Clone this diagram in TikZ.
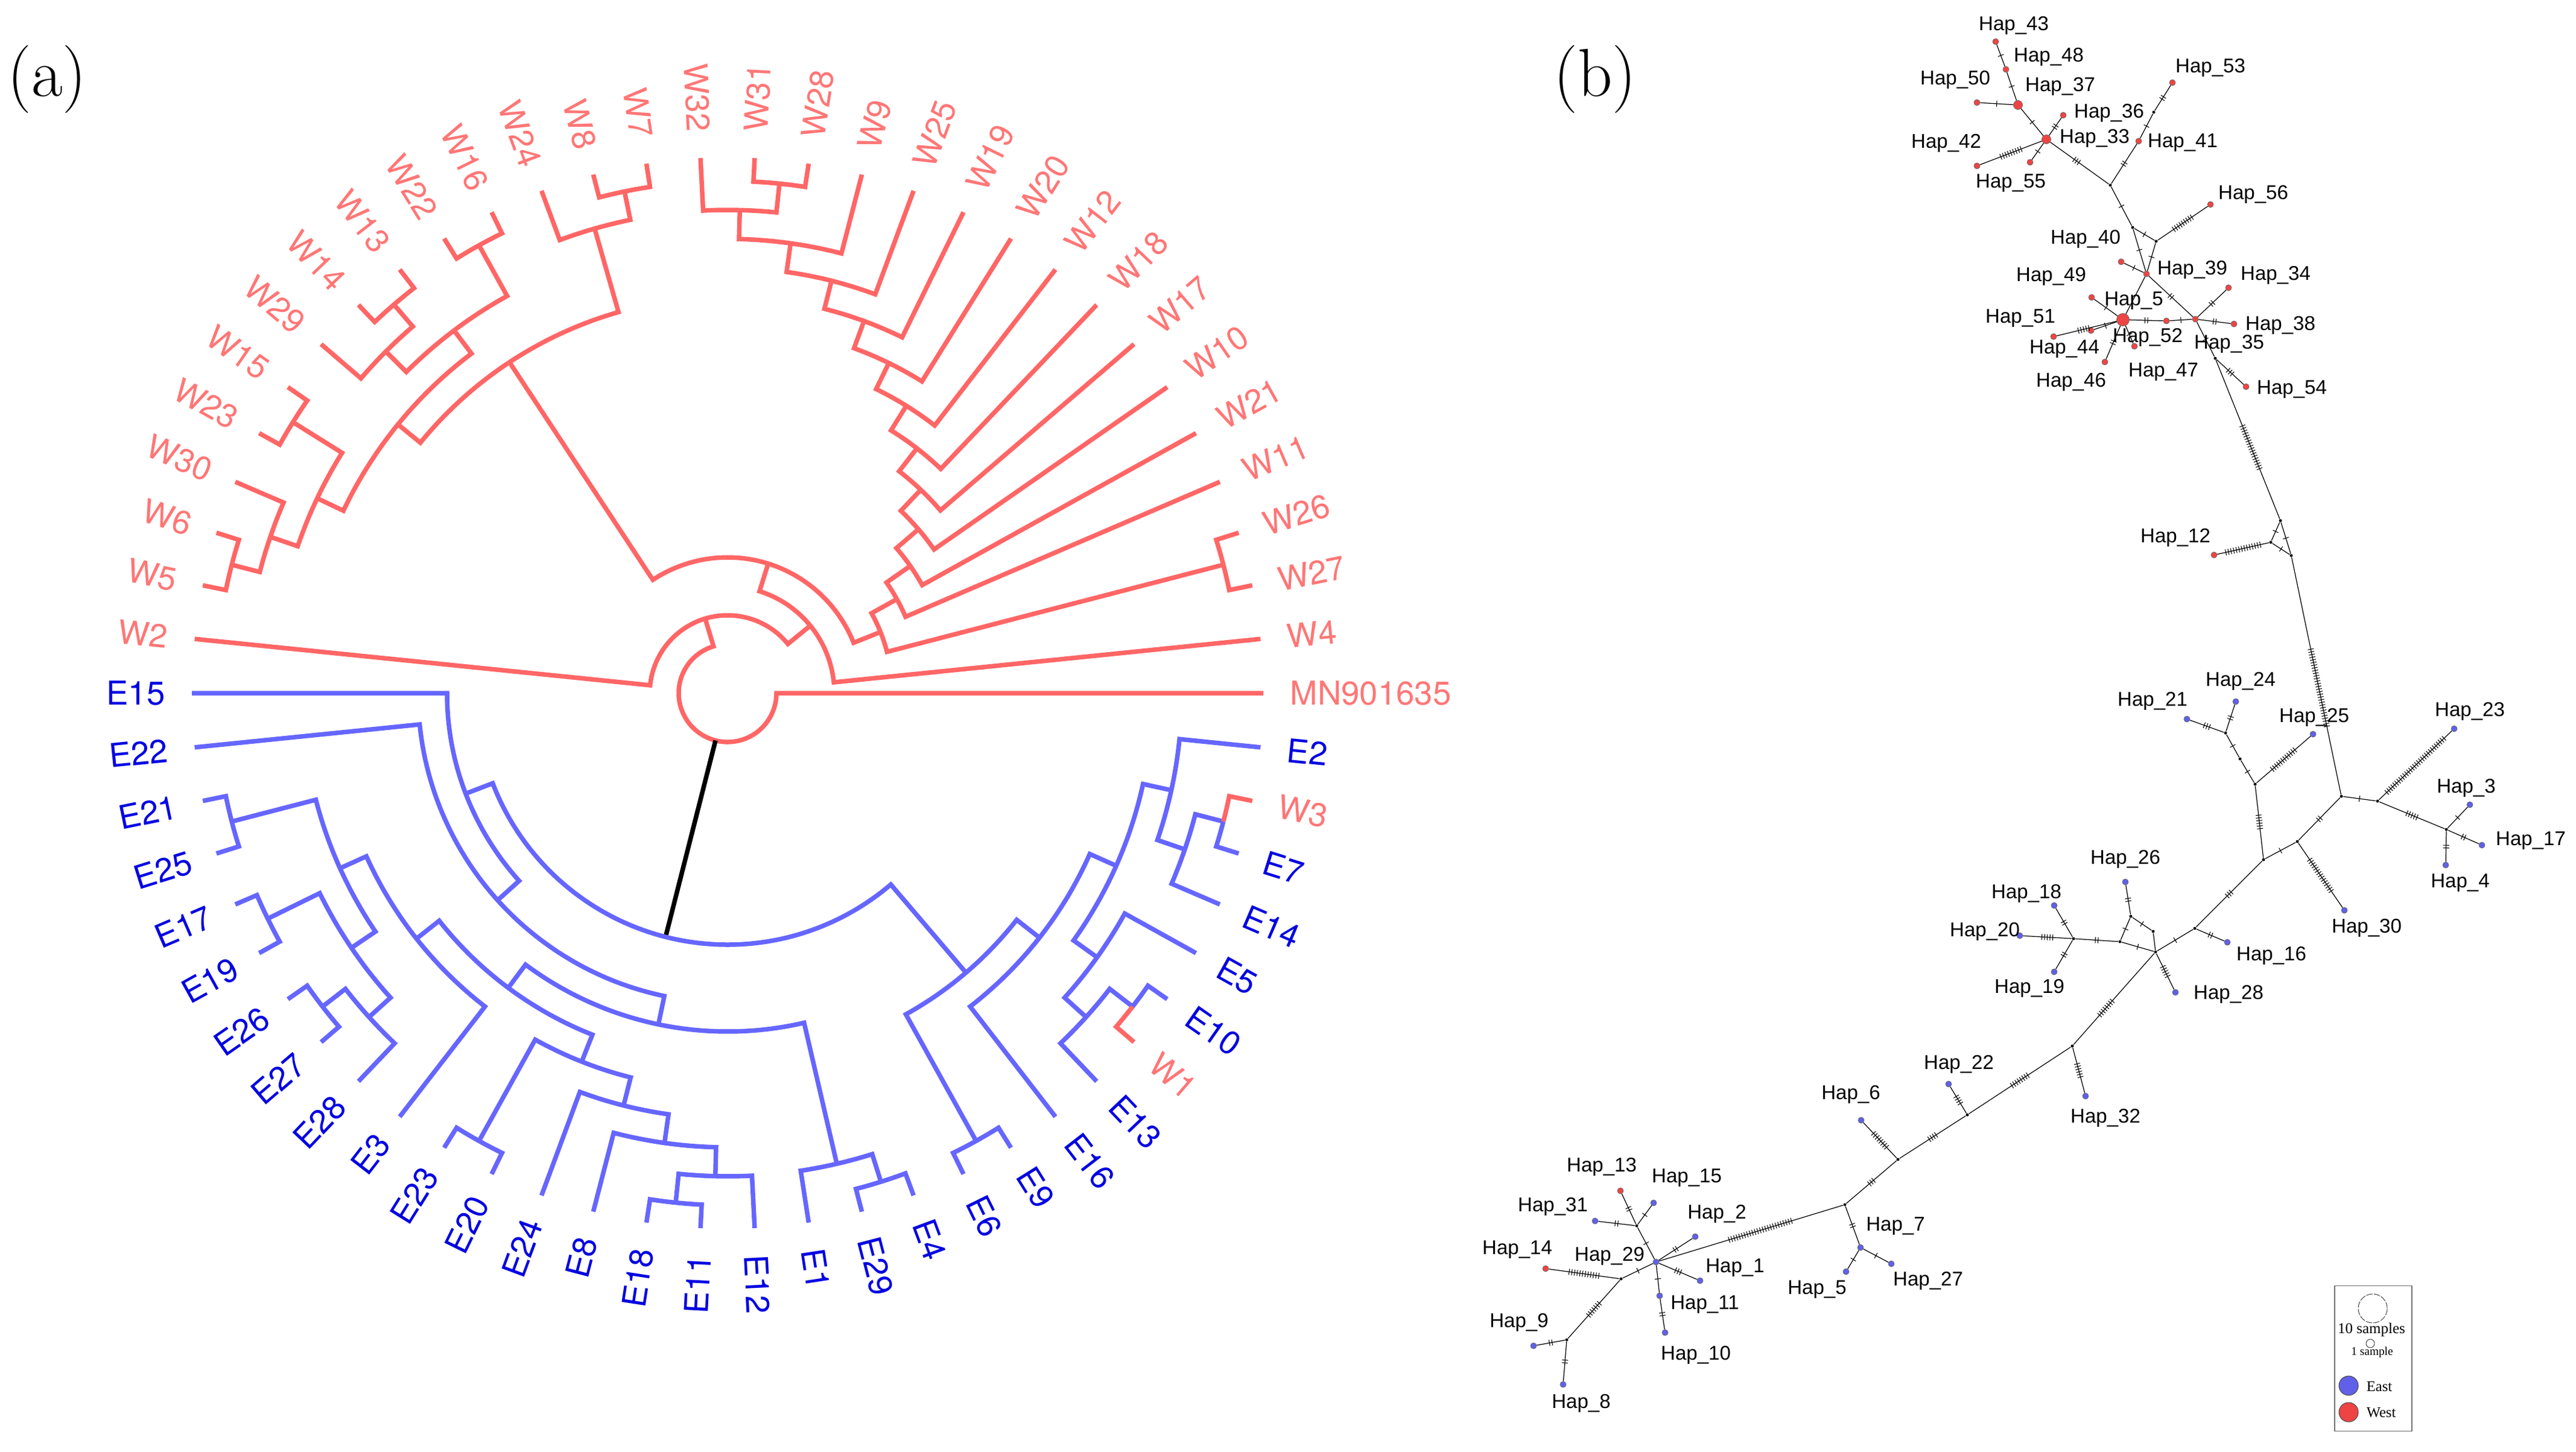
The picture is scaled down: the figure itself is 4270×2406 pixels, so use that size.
\documentclass[tikz,border=0pt]{standalone}
\usepackage{fontspec}
\usetikzlibrary{decorations.markings}
\newfontfamily\treefont{TeX Gyre Heros}
\newfontfamily\hapfont{Liberation Sans}
\newfontfamily\legfont{Liberation Serif}
\definecolor{cWbr}{RGB}{255,102,102}
\definecolor{cEbr}{RGB}{102,102,255}
\definecolor{cWlab}{RGB}{255,118,118}
\definecolor{cElab}{RGB}{0,0,225}
\definecolor{cNred}{RGB}{238,68,68}
\definecolor{cNblue}{RGB}{96,96,232}
\newcommand\nd[6]{\draw[#1] (#3:#4) -- (#3:#2) arc[start angle=#3,end angle=#5,radius=#2] -- (#5:#6);}
\begin{document}
\begin{tikzpicture}[x=0.01cm,y=0.01cm,
  redbr/.style={draw=cWbr,line width=0.075cm},
  bluebr/.style={draw=cEbr,line width=0.075cm},
  blackbr/.style={draw=black,line width=0.075cm},
  lab/.style={font=\treefont\fontsize{15.5}{18}\selectfont,inner sep=0pt},
  hl/.style={font=\hapfont\fontsize{9.4}{11}\selectfont,inner sep=0pt},
  ed/.style={draw=black,line width=0.35pt},
  tk/.style 2 args={postaction={decorate,decoration={markings,mark=at position #1 with {\foreach \k in {1,...,#2}{\draw[line width=0.3pt] ({(\k-(#2+1)/2)*4.5},-5) -- ++(0,10);}}}}},
  rn/.style={circle,fill=cNred,draw=black!60,line width=0.2pt,minimum size=0.1cm,inner sep=0pt},
  bn/.style={circle,fill=cNblue,draw=black!60,line width=0.2pt,minimum size=0.1cm,inner sep=0pt},
  md/.style={circle,fill=black,minimum size=0.05cm,inner sep=0pt},
  legt/.style={font=\legfont,inner sep=0pt}]
\fill[white] (0,0) rectangle (4270,-2406);
\useasboundingbox (0,0) rectangle (4270,-2406);

\node[inner sep=0pt,font=\fontsize{32}{38}\selectfont] (pa) at (78,-131) {(a)};
\node[inner sep=0pt,font=\fontsize{32}{38}\selectfont] (pb) at (2644,-131) {(b)};

% ---------------- dendrogram ----------------
\begin{scope}[shift={(1206,-1149)}]
% west clade
\nd{redbr}{81}{106.7}{129}{360}{888}
\nd{redbr}{129}{39.2}{177}{174.19}{888}
\nd{redbr}{177}{5.81}{888}{72.59}{225}
\nd{redbr}{225}{21.78}{273}{123.39}{657}
\nd{redbr}{273}{14.52}{849}{29.03}{321}
\nd{redbr}{849}{11.61}{888}{17.42}{888}
\nd{redbr}{321}{23.23}{888}{34.84}{369}
\nd{redbr}{369}{29.03}{888}{40.65}{417}
\nd{redbr}{417}{34.84}{888}{46.46}{465}
\nd{redbr}{465}{40.65}{888}{52.28}{513}
\nd{redbr}{513}{46.45}{888}{58.11}{561}
\nd{redbr}{561}{52.26}{888}{63.96}{609}
\nd{redbr}{609}{58.06}{888}{69.86}{657}
\nd{redbr}{657}{63.87}{888}{75.85}{705}
\nd{redbr}{705}{69.68}{888}{82.02}{753}
\nd{redbr}{753}{75.48}{888}{88.55}{801}
\nd{redbr}{801}{84.19}{849}{92.90}{888}
\nd{redbr}{849}{81.29}{888}{87.10}{888}
\nd{redbr}{657}{105.97}{801}{140.81}{705}
\nd{redbr}{801}{101.61}{849}{110.32}{888}
\nd{redbr}{849}{98.71}{888}{104.52}{888}
\nd{redbr}{705}{127.02}{753}{154.6}{753}
\nd{redbr}{753}{119.03}{849}{135.0}{801}
\nd{redbr}{849}{116.13}{888}{121.94}{888}
\nd{redbr}{801}{130.65}{849}{139.35}{888}
\nd{redbr}{849}{127.74}{888}{133.55}{888}
\nd{redbr}{753}{148.06}{849}{161.13}{801}
\nd{redbr}{849}{145.16}{888}{150.97}{888}
\nd{redbr}{801}{156.77}{888}{165.48}{849}
\nd{redbr}{849}{162.58}{888}{168.39}{888}
% east clade
\draw[blackbr] (255.73:81) -- (255.73:417);
\nd{bluebr}{417}{201.0}{465}{310.46}{609}
\nd{bluebr}{465}{180}{888}{222.01}{513}
\nd{bluebr}{513}{185.81}{888}{258.21}{561}
\nd{bluebr}{561}{233.35}{609}{283.07}{801}
\nd{bluebr}{609}{218.29}{657}{248.41}{657}
\nd{bluebr}{657}{204.32}{705}{232.26}{888}
\nd{bluebr}{705}{194.52}{849}{214.11}{753}
\nd{bluebr}{849}{191.61}{888}{197.42}{888}
\nd{bluebr}{753}{206.13}{849}{222.10}{801}
\nd{bluebr}{849}{203.23}{888}{209.03}{888}
\nd{bluebr}{801}{217.74}{849}{226.45}{888}
\nd{bluebr}{849}{214.84}{888}{220.65}{888}
\nd{bluebr}{657}{240.97}{849}{255.85}{705}
\nd{bluebr}{849}{238.06}{888}{243.87}{888}
\nd{bluebr}{705}{249.68}{888}{262.02}{753}
\nd{bluebr}{753}{255.48}{888}{268.55}{801}
\nd{bluebr}{801}{264.19}{849}{272.90}{888}
\nd{bluebr}{849}{261.29}{888}{267.10}{888}
\nd{bluebr}{801}{278.71}{888}{287.42}{849}
\nd{bluebr}{849}{284.52}{888}{290.32}{888}
\nd{bluebr}{609}{299.03}{849}{321.9}{657}
\nd{bluebr}{849}{296.13}{888}{301.94}{888}
\nd{bluebr}{657}{307.74}{888}{336.05}{705}
\nd{bluebr}{705}{324.44}{753}{347.66}{753}
\nd{bluebr}{753}{317.9}{801}{330.97}{888}
\nd{bluebr}{801}{313.55}{888}{322.26}{849}
\draw[redbr] (319.35:888) -- (319.35:849) arc[start angle=319.35,end angle=322.26,radius=849];
\draw[bluebr] (322.26:849) arc[start angle=322.26,end angle=325.16,radius=849] -- (325.16:888);
\nd{bluebr}{753}{341.13}{801}{354.19}{888}
\nd{bluebr}{801}{336.77}{888}{345.48}{849}
\draw[bluebr] (342.58:888) -- (342.58:849) arc[start angle=342.58,end angle=345.48,radius=849];
\draw[redbr] (345.48:849) arc[start angle=345.48,end angle=348.39,radius=849] -- (348.39:888);
% labels
\foreach \i/\nm/\cl in {0/MN901635/cWlab,1/W4/cWlab,2/W27/cWlab,3/W26/cWlab,4/W11/cWlab,5/W21/cWlab,6/W10/cWlab,7/W17/cWlab,8/W18/cWlab,9/W12/cWlab,10/W20/cWlab,11/W19/cWlab,12/W25/cWlab,13/W9/cWlab,14/W28/cWlab,15/W31/cWlab,16/W32/cWlab,17/W7/cWlab,18/W8/cWlab,19/W24/cWlab,20/W16/cWlab,21/W22/cWlab,22/W13/cWlab,23/W14/cWlab,24/W29/cWlab,25/W15/cWlab,26/W23/cWlab,27/W30/cWlab,28/W6/cWlab,29/W5/cWlab,30/W2/cWlab,31/E15/cElab,32/E22/cElab,33/E21/cElab,34/E25/cElab,35/E17/cElab,36/E19/cElab,37/E26/cElab,38/E27/cElab,39/E28/cElab,40/E3/cElab,41/E23/cElab,42/E20/cElab,43/E24/cElab,44/E8/cElab,45/E18/cElab,46/E11/cElab,47/E12/cElab,48/E1/cElab,49/E29/cElab,50/E4/cElab,51/E6/cElab,52/E9/cElab,53/E16/cElab,54/E13/cElab,55/W1/cWlab,56/E10/cElab,57/E5/cElab,58/E14/cElab,59/E7/cElab,60/W3/cWlab,61/E2/cElab}{
  \pgfmathsetmacro\ang{\i*5.806452}
  \pgfmathtruncatemacro\side{and(\ang>90,\ang<270)}
  \ifnum\side=1
    \pgfmathsetmacro\rot{\ang-180}
    \node[lab,text=\cl,anchor=east,rotate=\rot] (lab\i) at (\ang:932) {\nm};
  \else
    \node[lab,text=\cl,anchor=west,rotate=\ang] (lab\i) at (\ang:932) {\nm};
  \fi
}
\end{scope}

% ---------------- network ----------------
% nodes
\node[rn] (h43) at (3308,-69) {};
\node[rn] (h48) at (3325,-115) {};
\node[rn,minimum size=0.15cm] (h37) at (3345,-174) {};
\node[rn] (h50) at (3277,-170) {};
\node[rn] (h36) at (3420,-191) {};
\node[rn,minimum size=0.15cm] (h33) at (3392,-231) {};
\node[rn] (h42) at (3277,-275) {};
\node[rn] (h55) at (3365,-269) {};
\node[rn] (h53) at (3601,-137) {};
\node[md] (m1) at (3570,-186) {};
\node[rn] (h41) at (3545,-234) {};
\node[md] (m2) at (3498,-307) {};
\node[rn] (h56) at (3664,-339) {};
\node[md] (m3) at (3535,-377) {};
\node[md] (m4) at (3574,-400) {};
\node[rn] (h40) at (3516,-434) {};
\node[rn] (h39) at (3558,-454) {};
\node[rn] (h34) at (3694,-477) {};
\node[rn] (h49) at (3467,-493) {};
\node[rn,minimum size=0.21cm] (h5w) at (3519,-530) {};
\node[rn] (h51) at (3404,-558) {};
\node[rn] (h44) at (3466,-548) {};
\node[rn] (h52) at (3538,-574) {};
\node[rn] (h47) at (3591,-532) {};
\node[rn] (h46) at (3489,-600) {};
\node[rn] (h35) at (3639,-529) {};
\node[rn] (h38) at (3703,-537) {};
\node[md] (m5) at (3672,-594) {};
\node[rn] (h54) at (3723,-641) {};
\node[md] (m6) at (3780,-863) {};
\node[md] (m7) at (3764,-899) {};
\node[md] (m8) at (3798,-921) {};
\node[rn] (h12) at (3670,-920) {};
\node[md] (m9) at (3881,-1320) {};
\node[bn] (h21) at (3625,-1192) {};
\node[bn] (h24) at (3706,-1163) {};
\node[md] (m10) at (3689,-1215) {};
\node[md] (m11) at (3713,-1258) {};
\node[md] (m12) at (3738,-1300) {};
\node[bn] (h25) at (3834,-1217) {};
\node[md] (m13) at (3752,-1425) {};
\node[md] (m14) at (3808,-1395) {};
\node[md] (m15) at (3941,-1328) {};
\node[bn] (h23) at (4068,-1208) {};
\node[md] (m16) at (4055,-1375) {};
\node[bn] (h3) at (4094,-1334) {};
\node[bn] (h17) at (4114,-1401) {};
\node[bn] (h4) at (4054,-1434) {};
\node[bn] (h30) at (3886,-1509) {};
\node[bn] (h26) at (3523,-1462) {};
\node[bn] (h18) at (3405,-1501) {};
\node[bn] (h20) at (3348,-1551) {};
\node[md] (m17) at (3437,-1556) {};
\node[bn] (h19) at (3405,-1611) {};
\node[md] (m18) at (3514,-1561) {};
\node[md] (m19) at (3532,-1519) {};
\node[md] (m20) at (3569,-1544) {};
\node[md] (m21) at (3573,-1578) {};
\node[bn] (h28) at (3606,-1645) {};
\node[md] (m22) at (3638,-1539) {};
\node[bn] (h16) at (3692,-1562) {};
\node[md] (m23) at (3435,-1734) {};
\node[bn] (h32) at (3457,-1817) {};
\node[md] (m24) at (3261,-1848) {};
\node[bn] (h22) at (3230,-1797) {};
\node[md] (m25) at (3146,-1922) {};
\node[bn] (h6) at (3085,-1857) {};
\node[md] (m26) at (3058,-1997) {};
\node[bn] (h7) at (3084,-2068) {};
\node[bn] (h5e) at (3060,-2108) {};
\node[bn] (h27) at (3135,-2095) {};
\node[bn] (h29) at (2745,-2092) {};
\node[bn] (h2) at (2810,-2050) {};
\node[bn] (h1) at (2818,-2123) {};
\node[bn] (h11) at (2751,-2148) {};
\node[bn] (h10) at (2760,-2209) {};
\node[md] (m27) at (2713,-2032) {};
\node[rn] (h13) at (2686,-1974) {};
\node[bn] (h15) at (2741,-1994) {};
\node[bn] (h31) at (2644,-2024) {};
\node[md] (m28) at (2687,-2120) {};
\node[rn] (h14) at (2562,-2103) {};
\node[md] (m29) at (2597,-2221) {};
\node[bn] (h9) at (2542,-2231) {};
\node[bn] (h8) at (2591,-2295) {};

% edges
\draw[ed,tk={0.5}{1}] (h43) -- (h48);
\draw[ed,tk={0.5}{1}] (h48) -- (h37);
\draw[ed,tk={0.5}{1}] (h50) -- (h37);
\draw[ed,tk={0.5}{1}] (h37) -- (h33);
\draw[ed,tk={0.5}{2}] (h33) -- (h36);
\draw[ed,tk={0.5}{9}] (h33) -- (h42);
\draw[ed,tk={0.5}{1}] (h33) -- (h55);
\draw[ed,tk={0.45}{3}] (h33) -- (m2);
\draw[ed,tk={0.5}{2}] (m2) -- (h41);
\draw[ed,tk={0.5}{1}] (h41) -- (m1);
\draw[ed,tk={0.5}{2}] (m1) -- (h53);
\draw[ed,tk={0.5}{1}] (m2) -- (m3);
\draw[ed,tk={0.5}{1}] (m3) -- (m4);
\draw[ed,tk={0.5}{9}] (m4) -- (h56);
\draw[ed,tk={0.5}{1}] (m3) -- (h39);
\draw[ed,tk={0.5}{1}] (m4) -- (h39);
\draw[ed,tk={0.5}{1}] (h40) -- (h39);
\draw[ed] (h39) -- (h5w);
\draw[ed,tk={0.5}{2}] (h39) -- (h35);
\draw[ed,tk={0.5}{2}] (h35) -- (h34);
\draw[ed,tk={0.5}{2}] (h35) -- (h38);
\draw[ed,tk={0.5}{2}] (h5w) -- (h47);
\draw[ed,tk={0.5}{1}] (h47) -- (h35);
\draw[ed,tk={0.5}{1}] (h5w) -- (h49);
\draw[ed,tk={0.5}{1}] (h5w) -- (h44);
\draw[ed,tk={0.55}{5}] (h5w) -- (h51);
\draw[ed,tk={0.5}{1}] (h5w) -- (h52);
\draw[ed,tk={0.5}{2}] (h5w) -- (h46);
\draw[ed,tk={0.5}{1}] (h35) -- (m5);
\draw[ed,tk={0.5}{3}] (m5) -- (h54);
\draw[ed,tk={0.55}{18}] (m5) -- (m6);
\draw[ed,tk={0.5}{1}] (m6) -- (m7);
\draw[ed,tk={0.5}{1}] (m6) -- (m8);
\draw[ed,tk={0.5}{1}] (m7) -- (m8);
\draw[ed,tk={0.5}{14}] (m7) -- (h12);
\draw[ed,tk={0.55}{30}] (m8) -- (m9);
\draw[ed,tk={0.5}{3}] (h21) -- (m10);
\draw[ed,tk={0.5}{2}] (h24) -- (m10);
\draw[ed,tk={0.5}{1}] (m10) -- (m11);
\draw[ed,tk={0.5}{1}] (m11) -- (m12);
\draw[ed,tk={0.5}{12}] (m12) -- (h25);
\draw[ed,tk={0.5}{6}] (m12) -- (m13);
\draw[ed,tk={0.5}{1}] (m9) -- (m15);
\draw[ed,tk={0.5}{30}] (m15) -- (h23);
\draw[ed,tk={0.5}{5}] (m15) -- (m16);
\draw[ed,tk={0.5}{1}] (m16) -- (h3);
\draw[ed,tk={0.5}{2}] (m16) -- (h17);
\draw[ed,tk={0.5}{2}] (m16) -- (h4);
\draw[ed,tk={0.5}{2}] (m9) -- (m14);
\draw[ed,tk={0.5}{1}] (m14) -- (m13);
\draw[ed,tk={0.5}{15}] (m14) -- (h30);
\draw[ed,tk={0.5}{3}] (m13) -- (m22);
\draw[ed,tk={0.5}{2}] (m22) -- (h16);
\draw[ed,tk={0.5}{1}] (m22) -- (m21);
\draw[ed] (m21) -- (m20);
\draw[ed,tk={0.5}{1}] (m20) -- (m19);
\draw[ed,tk={0.5}{1}] (m19) -- (m18);
\draw[ed,tk={0.5}{1}] (m18) -- (m21);
\draw[ed,tk={0.5}{2}] (m19) -- (h26);
\draw[ed,tk={0.5}{2}] (m18) -- (m17);
\draw[ed,tk={0.5}{2}] (m17) -- (h18);
\draw[ed,tk={0.5}{5}] (m17) -- (h20);
\draw[ed,tk={0.5}{2}] (m17) -- (h19);
\draw[ed,tk={0.5}{5}] (m21) -- (h28);
\draw[ed,tk={0.6}{8}] (m21) -- (m23);
\draw[ed,tk={0.5}{6}] (m23) -- (h32);
\draw[ed,tk={0.5}{8}] (m23) -- (m24);
\draw[ed,tk={0.5}{4}] (m24) -- (h22);
\draw[ed,tk={0.5}{4}] (m24) -- (m25);
\draw[ed,tk={0.5}{8}] (m25) -- (h6);
\draw[ed,tk={0.5}{3}] (m25) -- (m26);
\draw[ed,tk={0.5}{2}] (m26) -- (h7);
\draw[ed,tk={0.5}{1}] (h7) -- (h5e);
\draw[ed,tk={0.5}{1}] (h7) -- (h27);
\draw[ed,tk={0.45}{25}] (m26) -- (h29);
\draw[ed,tk={0.5}{2}] (h29) -- (h2);
\draw[ed,tk={0.5}{3}] (h29) -- (h1);
\draw[ed,tk={0.5}{1}] (h29) -- (h11);
\draw[ed,tk={0.5}{2}] (h11) -- (h10);
\draw[ed,tk={0.5}{1}] (h29) -- (m27);
\draw[ed,tk={0.5}{2}] (m27) -- (h13);
\draw[ed,tk={0.5}{1}] (m27) -- (h15);
\draw[ed,tk={0.5}{2}] (m27) -- (h31);
\draw[ed,tk={0.5}{1}] (h29) -- (m28);
\draw[ed,tk={0.5}{12}] (m28) -- (h14);
\draw[ed,tk={0.5}{7}] (m28) -- (m29);
\draw[ed,tk={0.5}{2}] (m29) -- (h9);
\draw[ed,tk={0.5}{2}] (m29) -- (h8);

% labels
\foreach \n/\x/\y in {43/3338/42,48/3396/94,37/3415/143,50/3241/132,36/3496/187,33/3472/229,42/3226/237,55/3333/304,53/3664/112,41/3618/237,56/3735/322,40/3457/396,39/3634/447,34/3772/456,49/3400/458,5/3537/499,51/3349/528,44/3422/579,52/3560/559,47/3586/617,46/3433/633,35/3695/570,38/3780/539,54/3799/646,12/3606/891,25/3836/1189,21/3568/1162,24/3714/1129,23/4094/1179,3/4088/1306,17/4195/1394,4/4078/1464,30/3923/1538,26/3523/1424,18/3359/1481,20/3290/1544,19/3364/1638,28/3694/1648,16/3765/1584,32/3490/1853,22/3247/1764,6/3068/1814,7/3142/2033,27/3196/2123,29/2668/2082,2/2846/2012,1/2876/2102,11/2826/2163,10/2811/2246,13/2655/1934,15/2796/1953,31/2574/2000,14/2515/2072,9/2518/2192,8/2621/2326}{
  \node[hl] (t\n) at (\x,-\y) {Hap\_\n};
}
\node[hl] (t5e) at (3012,-2138) {Hap\_5};

% legend
\node[draw=black!55,line width=0.5pt,minimum width=1.28cm,minimum height=2.41cm,inner sep=0pt] (legbox) at (3934,-2252) {};
\node[circle,draw=black!80,dashed,dash pattern=on 3pt off 0.6pt,line width=0.25pt,minimum size=0.48cm,inner sep=0pt] (c10) at (3933,-2169) {};
\node[legt,font=\legfont\fontsize{7.1}{8}\selectfont] (t10) at (3931,-2204) {10 samples};
\node[circle,draw=black!80,line width=0.25pt,minimum size=0.14cm,inner sep=0pt] (c1) at (3929,-2227) {};
\node[legt,font=\legfont\fontsize{5.5}{6}\selectfont] (t1) at (3932,-2242) {1 sample};
\node[circle,fill=cNblue,draw=black!70,line width=0.3pt,minimum size=0.32cm,inner sep=0pt] (cE) at (3893,-2297) {};
\node[legt,font=\legfont\fontsize{7}{8}\selectfont] (tE) at (3944,-2299) {East};
\node[circle,fill=cNred,draw=black!70,line width=0.3pt,minimum size=0.32cm,inner sep=0pt] (cW) at (3893,-2341) {};
\node[legt,font=\legfont\fontsize{7}{8}\selectfont] (tW) at (3947,-2342) {West};
\end{tikzpicture}
\end{document}
